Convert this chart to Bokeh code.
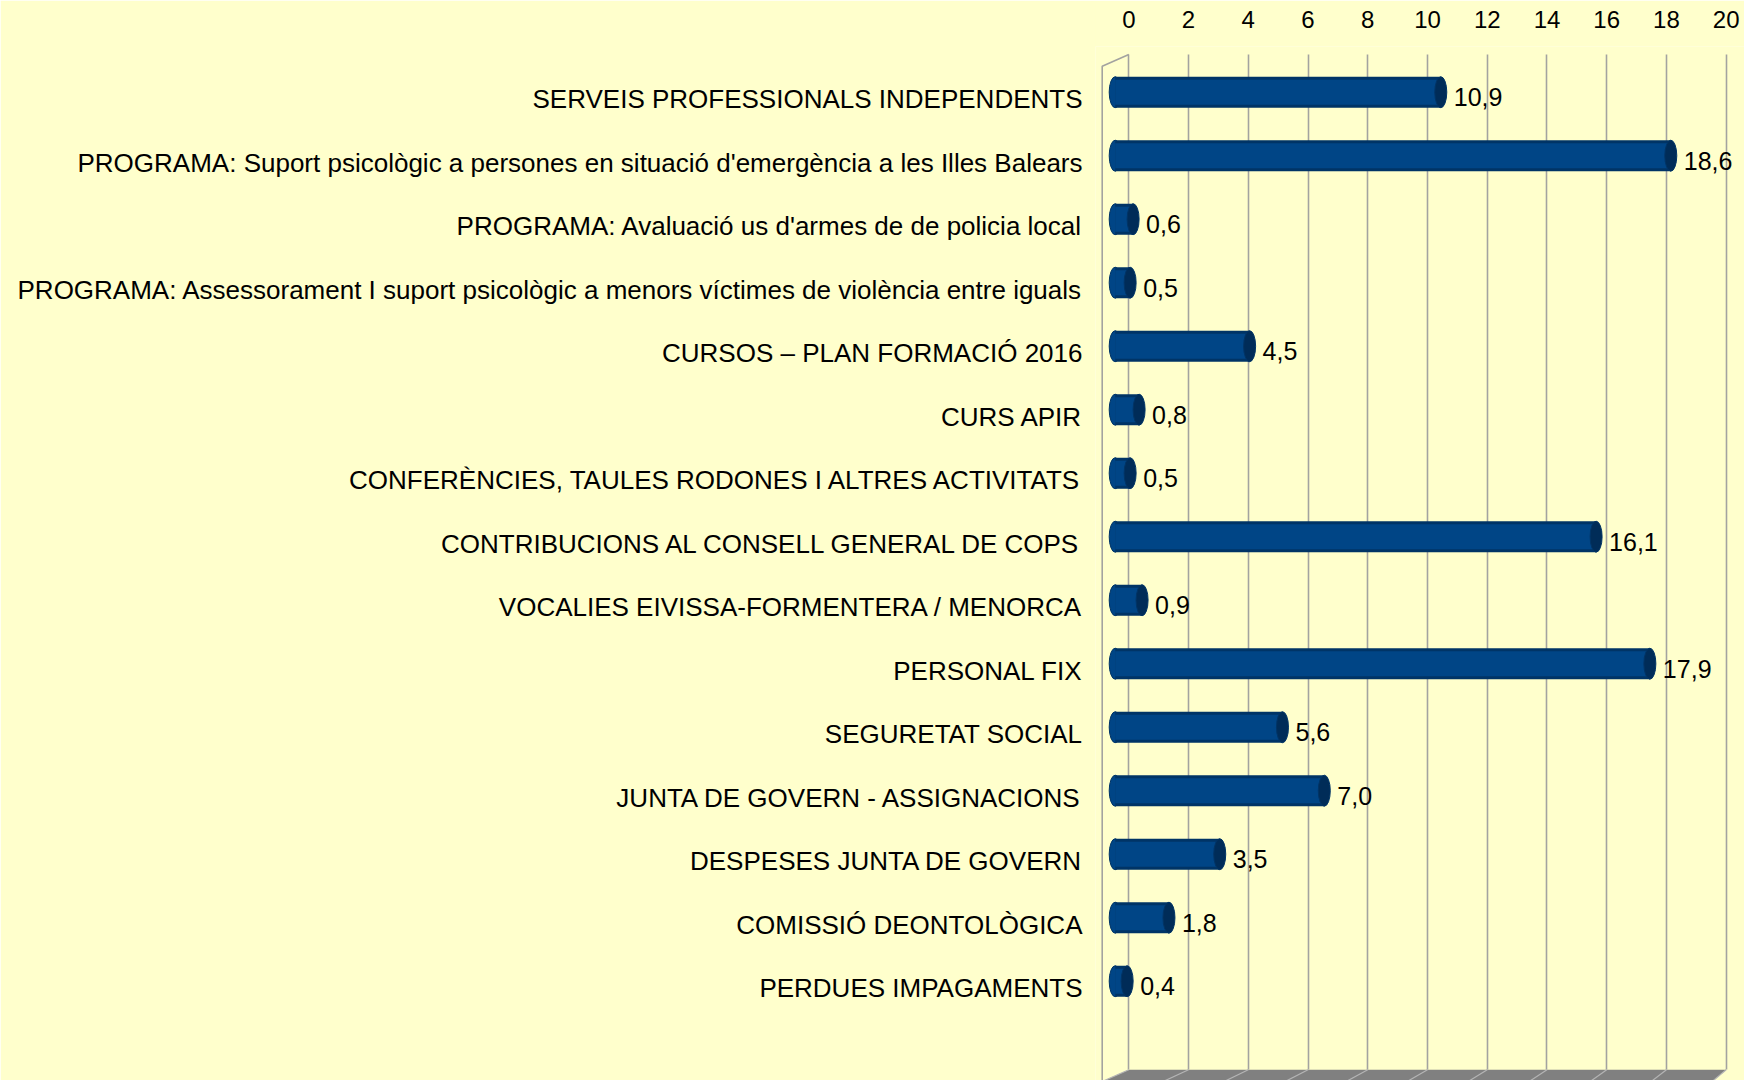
from bokeh.plotting import figure
from bokeh.models import Range1d, LinearAxis, FixedTicker, Grid, ColumnDataSource
from bokeh.core.properties import value
from bokeh.embed import file_html
from bokeh.resources import INLINE

# ---------------- data ----------------
CATEGORIES = [
    "SERVEIS PROFESSIONALS INDEPENDENTS",
    "PROGRAMA: Suport psicològic a persones en situació d'emergència a les Illes Balears",
    "PROGRAMA: Avaluació us d'armes de de policia local",
    "PROGRAMA: Assessorament I suport psicològic a menors víctimes de violència entre iguals",
    "CURSOS – PLAN FORMACIÓ 2016",
    "CURS APIR",
    "CONFERÈNCIES, TAULES RODONES I ALTRES ACTIVITATS",
    "CONTRIBUCIONS AL CONSELL GENERAL DE COPS",
    "VOCALIES EIVISSA-FORMENTERA / MENORCA",
    "PERSONAL FIX",
    "SEGURETAT SOCIAL",
    "JUNTA DE GOVERN - ASSIGNACIONS",
    "DESPESES JUNTA DE GOVERN",
    "COMISSIÓ DEONTOLÒGICA",
    "PERDUES IMPAGAMENTS",
]
VALUES = [10.9, 18.6, 0.6, 0.5, 4.5, 0.8, 0.5, 16.1, 0.9, 17.9, 5.6, 7.0, 3.5, 1.8, 0.4]
TICKS = [0, 2, 4, 6, 8, 10, 12, 14, 16, 18, 20]

# ---------------- style / geometry ----------------
BG = "#FFFFCC"
GRID = "#a3a3a0"
BLUE = "#004586"
BLUE_EDGE = "#003466"
CAP = "#002c58"
FLOOR = "#808080"
FONT = "Liberation Sans"

PAGE = 0
W, H = 1744, 1080
FL, FR, FT, FB = 1095, 1744, 46, 1080        # frame, canvas px

PXU = 29.87                                   # px per unit
FRONT_X0 = 1114.7 - PAGE                      # canvas px of value 0 (bar plane)
BACK_X0 = 1128.3 - PAGE                       # canvas px of value 0 (back wall)
ROW_Y0 = 91.7 - PAGE                          # first bar centre
ROW_PX = 63.5
BAR_PX = 31
CAP_W = 12
LABEL_DY = 7

def bx(px_page):
    return (px_page - PAGE - BACK_X0) / PXU

def fy(py_page):
    return (py_page - PAGE - ROW_Y0) / ROW_PX

x_front = Range1d((FL - FRONT_X0) / PXU, (FR - FRONT_X0) / PXU)
x_back = Range1d((FL - BACK_X0) / PXU, (FR - BACK_X0) / PXU)
y_front = Range1d((FB - ROW_Y0) / ROW_PX, (FT - ROW_Y0) / ROW_PX)
y_lab = Range1d((FB - ROW_Y0 - LABEL_DY) / ROW_PX, (FT - ROW_Y0 - LABEL_DY) / ROW_PX)

p = figure(width=W, height=H, x_range=x_front, y_range=y_front,
           x_axis_type=None, y_axis_type=None,
           output_backend="svg", toolbar_location=None,
           min_border_left=FL, min_border_right=0,
           min_border_top=FT, min_border_bottom=0,
           background_fill_color=BG, border_fill_color=BG,
           outline_line_color=None)
p.extra_x_ranges = {"back": x_back}
p.extra_y_ranges = {"lab": y_lab}

# top axis (back plane)
ax = LinearAxis(x_range_name="back", ticker=FixedTicker(ticks=TICKS),
                axis_line_color=None, major_tick_line_color=None,
                minor_tick_line_color=None, major_tick_out=0, major_tick_in=0,
                major_label_standoff=19,
                major_label_text_font=FONT, major_label_text_font_size="24px",
                major_label_text_color="black")
p.add_layout(ax, "above")

# category axis
idx = list(range(len(CATEGORIES)))
ay = LinearAxis(y_range_name="lab", ticker=FixedTicker(ticks=idx),
                major_label_overrides={i: c for i, c in zip(idx, CATEGORIES)},
                axis_line_color=None, major_tick_line_color=None,
                minor_tick_line_color=None, major_tick_out=0, major_tick_in=0,
                major_label_standoff=13,
                major_label_text_font=FONT, major_label_text_font_size="26px",
                major_label_text_color="black")
p.add_layout(ay, "left")

# grid on back wall
g = Grid(dimension=0, x_range_name="back", ticker=FixedTicker(ticks=TICKS),
         grid_line_color=GRID, grid_line_width=1.6,
         cross_bounds=(fy(54), fy(1069.3)))
p.add_layout(g)

# floor
p.patch(x=[TICKS[0], TICKS[-1], TICKS[-1] + (1712 - 1726) / PXU, bx(1101.7)],
        y=[fy(1069.3), fy(1069.3), fy(1081), fy(1081)],
        x_range_name="back", fill_color=FLOOR, line_color=None)
off = [(-26.6 + 12.6 * t / TICKS[-1]) / PXU for t in TICKS]
p.segment(x0=TICKS, y0=[fy(1069.3)] * len(TICKS),
          x1=[t + o for t, o in zip(TICKS, off)], y1=[fy(1081)] * len(TICKS),
          x_range_name="back", line_color="#b4b4b4", line_width=1.2)

# side wall edge
p.line(x=[bx(1101.7), bx(1101.7), TICKS[0]], y=[fy(1085), fy(65.7), fy(54)],
       x_range_name="back", line_color=GRID, line_width=1.6)

# bars (cylinders)
src = ColumnDataSource(dict(
    y=idx, v=VALUES,
    lab=[("%.1f" % v).replace(".", ",") for v in VALUES],
))
p.ellipse(x=0, y="y", width=CAP_W, height=BAR_PX, width_units="screen",
          height_units="screen", source=src, fill_color=BLUE,
          line_color=BLUE_EDGE, line_width=1)
p.hbar(y="y", left=0, right="v", height=BAR_PX / ROW_PX, source=src,
       fill_color=BLUE_EDGE, line_color=None)
p.hbar(y="y", left=0, right="v", height=(BAR_PX - 6) / ROW_PX, source=src,
       fill_color=BLUE, line_color=None)
p.ellipse(x="v", y="y", width=CAP_W, height=BAR_PX, width_units="screen",
          height_units="screen", source=src, fill_color=CAP,
          line_color=BLUE_EDGE, line_width=1)

p.text(x="v", y="y", text="lab", source=src, x_offset=13, y_offset=5,
       text_font=value(FONT), text_font_size="25px", text_color="black",
       text_align="left", text_baseline="middle")

html = file_html(p, INLINE)
html = html.replace("<body>", '<body style="background-color:#FFFFCC;">', 1)
open("out.html", "w").write(html)
